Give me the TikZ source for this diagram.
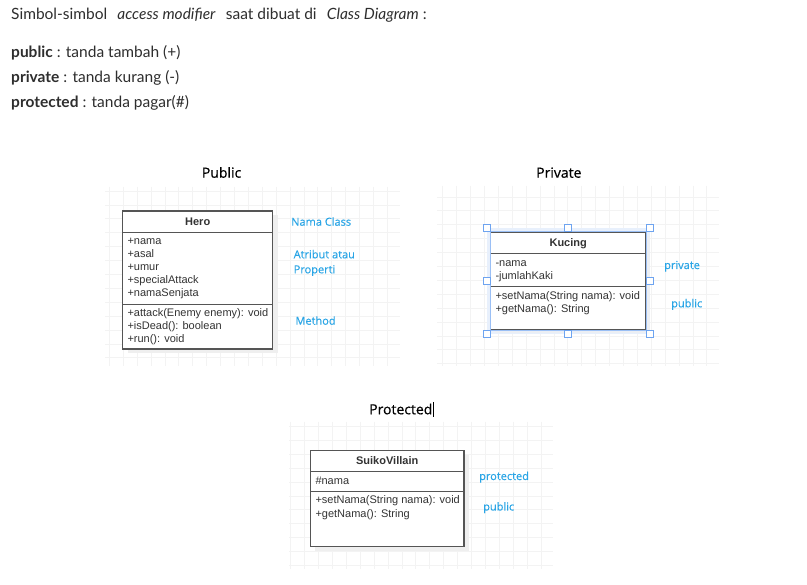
\documentclass[tikz,border=0pt]{standalone}
\usepackage{fontspec}
\setmainfont{Lato}
\newfontfamily\umlfont{Liberation Sans}
\newfontfamily\lblfont[FakeBold=0.25]{Open Sans}
\newfontfamily\headfont[FakeBold=0.6]{Open Sans}
\definecolor{bodytext}{HTML}{2E2E2E}
\definecolor{umltext}{HTML}{333333}
\definecolor{umlline}{HTML}{555555}
\definecolor{lblblue}{HTML}{2AA5E6}
\definecolor{handleblue}{HTML}{6EA4F0}
\definecolor{selfill}{HTML}{E8F0FC}
\definecolor{gridcol}{HTML}{F3F3F3}
\definecolor{shadowcol}{HTML}{EFEFEF}
\tikzset{
  bodyline/.style={anchor=base west, inner sep=0, text=bodytext, font=\fontsize{15.5}{18}\selectfont},
  heading/.style={anchor=base west, inner sep=0, text=black, font=\headfont\fontsize{14}{16}\selectfont},
  bluelbl/.style={anchor=base west, inner sep=0, text=lblblue, font=\lblfont\fontsize{11}{13}\selectfont},
  umltxt/.style={anchor=base west, inner sep=0, text=umltext, font=\umlfont\fontsize{11}{13}\selectfont},
  umltitle/.style={anchor=base, inner sep=0, text=umltext, font=\umlfont\bfseries\fontsize{11}{13}\selectfont},
  umlbox/.style={draw=umlline, line width=1.2pt, fill=white},
  gridline/.style={draw=gridcol, line width=0.8pt},
  shadowbox/.style={fill=shadowcol, draw=none},
  handle/.style={draw=handleblue, fill=white, line width=0.9pt, minimum size=7pt, inner sep=0, rectangle},
}
\newcommand\gridpatch[6]{%
  \begin{scope}
    \clip (#1,#2) rectangle (#3,#4);
    \foreach \k in {0,...,24}{\draw[gridline] ({#5+13.9*\k},#2) -- ({#5+13.9*\k},#4);}
    \foreach \k in {0,...,14}{\draw[gridline] (#1,{#6+13.9*\k}) -- (#3,{#6+13.9*\k});}
  \end{scope}}
\begin{document}
\begin{tikzpicture}[x=1pt,y=-1pt]
\useasboundingbox (0,0) rectangle (807,585);
\fill[white] (0,0) rectangle (807,585);

% intro text
\node[bodyline] (intro) at (11,20) {Simbol-simbol\hspace{0.4em} \textit{access modifier}\hspace{0.4em} saat dibuat di\hspace{0.4em} \textit{Class Diagram} :};
\node[bodyline] (lpub) at (11,57.3) {\textbf{public} : tanda tambah (+)};
\node[bodyline] (lpriv) at (11,82.7) {\textbf{private} : tanda kurang (-)};
\node[bodyline] (lprot) at (11,107.7) {\textbf{protected} : tanda pagar(\#)};

% headings
\node[heading] (hpub) at (201.7,177.7) {Public};
\node[heading] (hpriv) at (536,177.7) {Private};
\node[heading] (hprot) at (369,414.3) {Protected};
\draw[black, line width=0.7pt] (433.7,402) coordinate (curA) -- (433.7,417.3) coordinate (curB);

% grids
\gridpatch{105}{187}{400}{366}{109.3}{191.1}
\gridpatch{437}{186}{719}{366}{442.7}{197}
\gridpatch{289}{422}{553}{569}{290.7}{426.5}

% ---- Hero (public)
\fill[shadowbox] (127.5,215.5) rectangle (277.5,353.5);
\draw[umlbox] (122.7,211) rectangle (272.7,349);
\draw[umlline, line width=1.2pt] (122.7,232.3) -- (272.7,232.3);
\draw[umlline, line width=1.2pt] (122.7,304.3) -- (272.7,304.3);
\node[umltitle] (hero) at (197.7,225.7) {Hero};
\node[umltxt] (ha1) at (127.3,244.5) {+nama};
\node[umltxt] (ha2) at (127.3,257.6) {+asal};
\node[umltxt] (ha3) at (127.3,270.7) {+umur};
\node[umltxt] (ha4) at (127.3,283.8) {+specialAttack};
\node[umltxt] (ha5) at (127.3,296.9) {+namaSenjata};
\node[umltxt] (hm1) at (127.3,316.8) {+attack(Enemy enemy): void};
\node[umltxt] (hm2) at (127.3,329.8) {+isDead(): boolean};
\node[umltxt] (hm3) at (127.3,342.8) {+run(): void};
\node[bluelbl] (lnama) at (291,225.7) {Nama Class};
\node[bluelbl] (latr1) at (293.5,258.3) {Atribut atau};
\node[bluelbl] (latr2) at (293.5,273.3) {Properti};
\node[bluelbl] (lmeth) at (295.3,324.7) {Method};

% ---- Kucing (private)
\fill[selfill] (486.7,228) rectangle (649.7,333.7);
\fill[shadowcol!60!selfill] (495,236) rectangle (650,333);
\draw[umlbox] (490.7,232) rectangle (645.7,329.3);
\draw[handleblue!70, line width=0.6pt] (489.9,231.2) rectangle (646.5,330.1);
\draw[umlline, line width=1.2pt] (490.7,253.7) -- (645.7,253.7);
\draw[umlline, line width=1.2pt] (490.7,286.7) -- (645.7,286.7);
\node[umltitle] (kucing) at (568.2,246.7) {Kucing};
\node[umltxt] (ka1) at (495.3,266.8) {-nama};
\node[umltxt] (ka2) at (495.3,279.6) {-jumlahKaki};
\node[umltxt] (km1) at (495.3,299.2) {+setNama(String nama): void};
\node[umltxt] (km2) at (495.3,312.2) {+getNama(): String};
\foreach \hx/\hy/\nm in {486.7/228/h1, 568.2/228/h2, 649.7/228/h3, 486.7/281/h4, 649.7/281/h5, 486.7/333.7/h6, 568.2/333.7/h7, 649.7/333.7/h8}{
  \node[handle] (\nm) at (\hx,\hy) {};
}
\node[bluelbl] (lpriv2) at (664,269) {private};
\node[bluelbl] (lpub2) at (671,307.3) {public};

% ---- SuikoVillain (protected)
\fill[shadowbox] (315,455) rectangle (469,551);
\draw[umlbox] (310.3,450.3) rectangle (464,546.3);
\draw[umlline, line width=1.2pt] (310.3,471.7) -- (464,471.7);
\draw[umlline, line width=1.2pt] (310.3,491.7) -- (464,491.7);
\node[umltitle] (suiko) at (387.2,465) {SuikoVillain};
\node[umltxt] (sa1) at (315.3,484.2) {\#nama};
\node[umltxt] (sm1) at (315.3,503.5) {+setNama(String nama): void};
\node[umltxt] (sm2) at (315.3,517.3) {+getNama(): String};
\node[bluelbl] (lprot2) at (479,480) {protected};
\node[bluelbl] (lpub3) at (483,510.5) {public};
\end{tikzpicture}
\end{document}
